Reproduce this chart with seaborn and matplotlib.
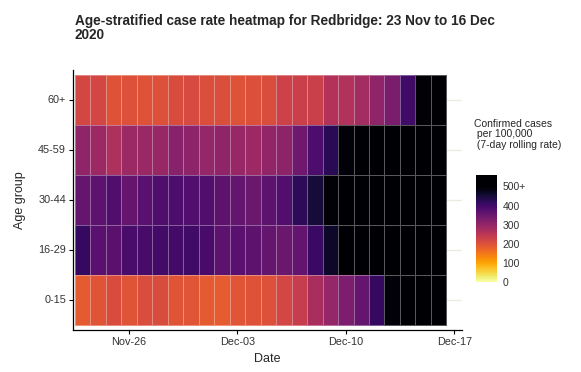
import numpy as np
import pandas as pd
import matplotlib
matplotlib.use("Agg")
import matplotlib.pyplot as plt
from matplotlib.colors import ListedColormap
import seaborn as sns

# data (cases per 100,000, 7-day rolling rate)
dates = pd.date_range("2020-11-23", "2020-12-16", freq="D")
age_groups = ["60+", "45-59", "30-44", "16-29", "0-15"]

rate_60plus = [215, 218, 198, 200, 197, 200, 207, 212, 203, 203, 198, 201,
               205, 225, 230, 230, 260, 262, 280, 305, 330, 400, 495, 530]
rate_45_59 = [305, 287, 268, 290, 292, 293, 312, 307, 297, 305, 295, 287,
              302, 307, 345, 385, 425, 490, 530, 570, 610, 650, 690, 720]
rate_30_44 = [355, 368, 380, 355, 372, 383, 385, 380, 380, 365, 358, 350,
              365, 382, 422, 450, 495, 540, 590, 640, 690, 730, 770, 800]
rate_16_29 = [412, 372, 370, 388, 390, 397, 397, 400, 390, 368, 372, 365,
              358, 350, 360, 408, 462, 520, 570, 620, 670, 710, 740, 770]
rate_0_15 = [188, 195, 208, 196, 205, 207, 196, 194, 186, 184, 193, 197,
             200, 217, 235, 272, 297, 328, 356, 412, 490, 540, 580, 620]

date_ticks = ["2020-11-26", "2020-12-03", "2020-12-10", "2020-12-17"]
date_tick_labels = ["Nov-26", "Dec-03", "Dec-10", "Dec-17"]
cbar_ticks = [0, 100, 200, 300, 400, 500]
cbar_labels = ["0", "100", "200", "300", "400", "500+"]

df = pd.DataFrame([rate_60plus, rate_45_59, rate_30_44, rate_16_29, rate_0_15],
                  index=age_groups, columns=dates)

sns.set_style("white")
plt.rcParams["font.family"] = ["Liberation Sans", "DejaVu Sans"]

# inferno reversed up to 500, black above ("500+")
vmax = 560
base = plt.get_cmap("inferno_r")(np.linspace(0, 1, 500))
top = np.tile([0, 0, 0.015, 1], (vmax - 500, 1))
cmap = ListedColormap(np.vstack([base, top]))

fig = plt.figure(figsize=(5.81, 3.72), dpi=100)
ax = fig.add_axes([0.1256, 0.1129, 0.6695, 0.699])
cax = fig.add_axes([0.8193, 0.2419, 0.0361, 0.2876])

sns.heatmap(df, cmap=cmap, vmin=0, vmax=vmax, ax=ax, cbar_ax=cax,
            linewidths=0.6, linecolor=(1, 1, 1, 0.35))

ax.set_xlim(-0.11, 25.0)
ax.set_ylim(5.1, -0.1)

# x ticks at date positions (cell i centred at i + 0.5)
tick_pos = [(pd.Timestamp(d) - dates[0]).days + 0.5 for d in date_ticks]
ax.set_xticks(tick_pos)
ax.set_xticklabels(date_tick_labels, rotation=0, fontsize=7.8, color="#333333")
ax.set_yticks(np.arange(len(age_groups)) + 0.5)
ax.set_yticklabels(age_groups, rotation=0, fontsize=7.8, color="#333333")

ax.yaxis.grid(True, color="#ebebe4", lw=1.0)
ax.set_axisbelow(True)
for s in ["left", "bottom"]:
    ax.spines[s].set_visible(True)
    ax.spines[s].set_color("black")
    ax.spines[s].set_linewidth(0.9)
ax.spines["top"].set_visible(False)
ax.spines["right"].set_visible(False)
ax.tick_params(axis="both", length=3, width=0.8, color="black", pad=2,
               bottom=True, left=True)

ax.set_xlabel("Date", fontsize=9, labelpad=4)
ax.set_ylabel("Age group", fontsize=9, labelpad=9)

fig.text(0.129, 0.962, "Age-stratified case rate heatmap for Redbridge: 23 Nov to 16 Dec\n2020",
         fontsize=9.8, fontweight="bold", va="top", ha="left", linespacing=0.95)

# colourbar styling
cbar = ax.collections[0].colorbar
cbar.outline.set_visible(False)
cbar.set_ticks(cbar_ticks)
cbar.set_ticklabels(cbar_labels)
cax.tick_params(axis="y", direction="in", color="white", length=4, width=0.6,
                left=True, right=True, labelleft=False, labelright=True,
                labelsize=7.5, labelcolor="#333333", pad=4)
fig.text(0.815, 0.68, "Confirmed cases\n per 100,000\n (7-day rolling rate)",
         fontsize=7.5, va="top", ha="left", linespacing=1.05)

fig.savefig("out.png", dpi=100)
